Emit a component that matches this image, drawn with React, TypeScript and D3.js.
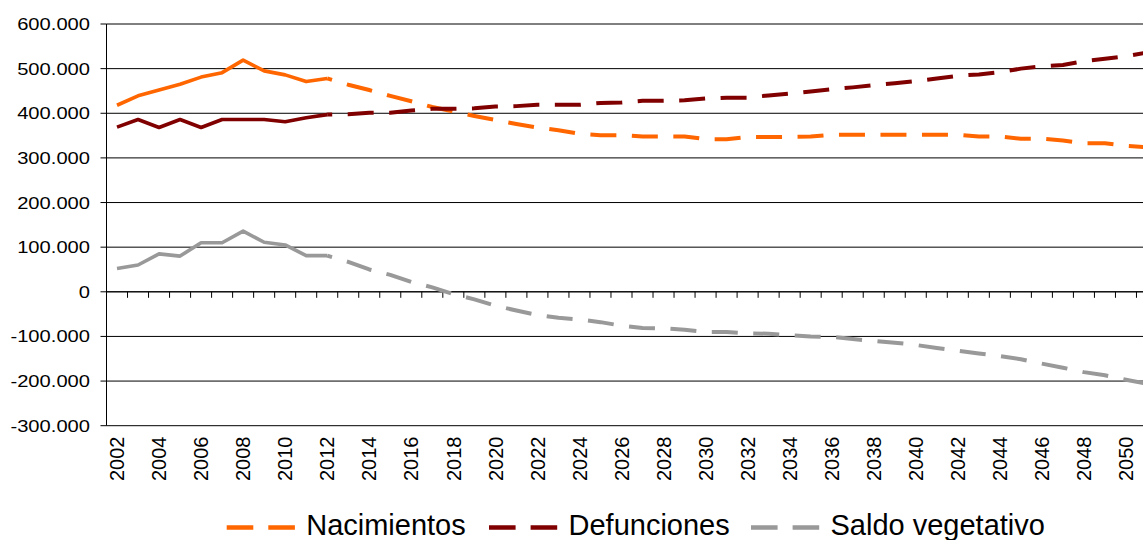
import * as d3 from "d3";
import React, { useEffect, useRef } from "react";

// años (categorías del eje X)
const years = [
  2002, 2003, 2004, 2005, 2006, 2007, 2008, 2009, 2010, 2011, 2012, 2013, 2014, 2015, 2016, 2017, 2018,
  2019, 2020, 2021, 2022, 2023, 2024, 2025, 2026, 2027, 2028, 2029, 2030, 2031, 2032, 2033, 2034, 2035,
  2036, 2037, 2038, 2039, 2040, 2041, 2042, 2043, 2044, 2045, 2046, 2047, 2048, 2049, 2050, 2051,
];

// último año observado; a partir de aquí la serie es proyección (discontinua)
const lastObservedYear = 2012;

const nacimientos = [
  418000, 439000, 452000, 465000, 481000, 491000, 519000, 495000, 486000, 471000, 478000, 464000, 452000,
  439000, 427000, 414000, 404000, 394000, 385000, 376000, 368000, 362000, 354000, 351000, 351000, 348000,
  348000, 348000, 342000, 342000, 347000, 347000, 347000, 348000, 352000, 352000, 352000, 352000, 352000,
  352000, 352000, 348000, 348000, 343000, 343000, 339000, 333000, 333000, 327000, 324000,
];

const defunciones = [
  369000, 386000, 368000, 386000, 368000, 386000, 386000, 386000, 381000, 390000, 397000, 398000, 401000,
  401000, 406000, 410000, 410000, 411000, 415000, 416000, 419000, 419000, 419000, 423000, 424000, 428000,
  428000, 429000, 433000, 435000, 435000, 440000, 444000, 449000, 454000, 458000, 463000, 467000, 472000,
  478000, 484000, 487000, 492000, 500000, 505000, 508000, 517000, 522000, 528000, 536000,
];

const saldoVegetativo = [
  52000, 60000, 85000, 80000, 110000, 110000, 136000, 111000, 105000, 81000, 81000, 67000, 50000, 38000,
  22000, 10000, -5000, -17000, -31000, -42000, -52000, -58000, -62000, -68000, -76000, -81000, -82000,
  -85000, -90000, -90000, -93000, -94000, -97000, -100000, -101000, -106000, -110000, -114000, -119000,
  -126000, -132000, -138000, -144000, -151000, -161000, -170000, -180000, -187000, -197000, -206000,
];

const yTicks = [-300000, -200000, -100000, 0, 100000, 200000, 300000, 400000, 500000, 600000];

const seriesNames = ["Nacimientos", "Defunciones", "Saldo vegetativo"];
const seriesColors = ["#ff6600", "#800000", "#999999"];

const FONT = "'Liberation Sans', Arial, sans-serif";

const App: React.FC = () => {
  const svgRef = useRef<SVGSVGElement>(null);

  useEffect(() => {
    const svg = d3.select(svgRef.current);
    svg.selectAll("*").remove();

    const width = 1143;
    const left = 106.5;
    const top = 24;
    const bottom = 425.7;
    const band = 21.02;
    const plotRight = left + years.length * band;

    const x = d3.scaleBand<number>().domain(years).range([left, plotRight]).padding(0);
    const y = d3.scaleLinear().domain([-300000, 600000]).range([bottom, top]);
    const cx = (yr: number) => (x(yr) ?? 0) + x.bandwidth() / 2;

    const es = d3.formatLocale({
      decimal: ",",
      thousands: ".",
      grouping: [3],
      currency: ["", " €"],
      minus: "-",
    });
    const fmt = es.format(",d");

    // líneas de cuadrícula
    svg
      .append("g")
      .selectAll("line")
      .data(yTicks)
      .join("line")
      .attr("x1", left)
      .attr("x2", width)
      .attr("y1", (d) => y(d))
      .attr("y2", (d) => y(d))
      .attr("stroke", "#000")
      .attr("stroke-width", 1);

    // eje Y
    const yAxis = svg.append("g");
    yAxis
      .append("line")
      .attr("x1", left)
      .attr("x2", left)
      .attr("y1", top)
      .attr("y2", bottom)
      .attr("stroke", "#000");
    yAxis
      .selectAll("line.tick")
      .data(yTicks)
      .join("line")
      .attr("class", "tick")
      .attr("x1", left - 6)
      .attr("x2", left)
      .attr("y1", (d) => y(d))
      .attr("y2", (d) => y(d))
      .attr("stroke", "#000");
    yAxis
      .selectAll("text")
      .data(yTicks)
      .join("text")
      .attr("transform", (d) => `translate(90, ${y(d) + 6}) scale(1.2, 1)`)
      .attr("text-anchor", "end")
      .attr("font-family", FONT)
      .attr("font-size", 16.8)
      .attr("fill", "#000")
      .text((d) => fmt(d));

    // eje X (en el cero), marcas entre categorías
    const y0 = y(0);
    const xAxis = svg.append("g");
    xAxis
      .append("line")
      .attr("x1", left)
      .attr("x2", width)
      .attr("y1", y0)
      .attr("y2", y0)
      .attr("stroke", "#000");
    xAxis
      .selectAll("line.tick")
      .data(years.slice(1))
      .join("line")
      .attr("class", "tick")
      .attr("x1", (d) => x(d) ?? 0)
      .attr("x2", (d) => x(d) ?? 0)
      .attr("y1", y0)
      .attr("y2", y0 + 6)
      .attr("stroke", "#000");

    // etiquetas de años, cada dos, bajo el gráfico
    xAxis
      .selectAll("text")
      .data(years.filter((yr) => (yr - years[0]) % 2 === 0))
      .join("text")
      .attr("transform", (d) => `translate(${cx(d)}, 436.5) rotate(-90)`)
      .attr("text-anchor", "end")
      .attr("dy", "0.36em")
      .attr("font-family", FONT)
      .attr("font-size", 20)
      .attr("fill", "#000")
      .text((d) => String(d));

    // series
    const allSeries = [nacimientos, defunciones, saldoVegetativo];
    const splitIdx = years.indexOf(lastObservedYear);
    const line = d3
      .line<[number, number]>()
      .x((d) => cx(d[0]))
      .y((d) => y(d[1]));

    const seriesG = svg.append("g");
    allSeries.forEach((values, si) => {
      const pts: [number, number][] = years.map((yr, i) => [yr, values[i]]);
      seriesG
        .append("path")
        .attr("d", line(pts.slice(0, splitIdx + 1)))
        .attr("fill", "none")
        .attr("stroke", seriesColors[si])
        .attr("stroke-width", 3.6)
        .attr("stroke-linejoin", "round");
      seriesG
        .append("path")
        .attr("d", line(pts.slice(splitIdx)))
        .attr("fill", "none")
        .attr("stroke", seriesColors[si])
        .attr("stroke-width", 4)
        .attr("stroke-dasharray", "26 15.5")
        .attr("stroke-dashoffset", 21)
        .attr("stroke-linejoin", "round");
    });

    // leyenda
    const legendStarts = [226.7, 489, 751];
    const legend = svg.append("g");
    seriesNames.forEach((name, i) => {
      const lx = legendStarts[i];
      legend
        .append("line")
        .attr("x1", lx)
        .attr("x2", lx + 68.3)
        .attr("y1", 527.5)
        .attr("y2", 527.5)
        .attr("stroke", seriesColors[i])
        .attr("stroke-width", 4.5)
        .attr("stroke-dasharray", "26.6 15");
      legend
        .append("text")
        .attr("x", lx + 79.5)
        .attr("y", 535)
        .attr("font-family", FONT)
        .attr("font-size", 29)
        .attr("fill", "#000")
        .text(name);
    });
  }, []);

  return (
    <svg
      ref={svgRef}
      width={1143}
      height={540}
      style={{ position: "absolute", left: 0, top: 0, background: "#fff", overflow: "hidden" }}
    ></svg>
  );
};

export default App;
